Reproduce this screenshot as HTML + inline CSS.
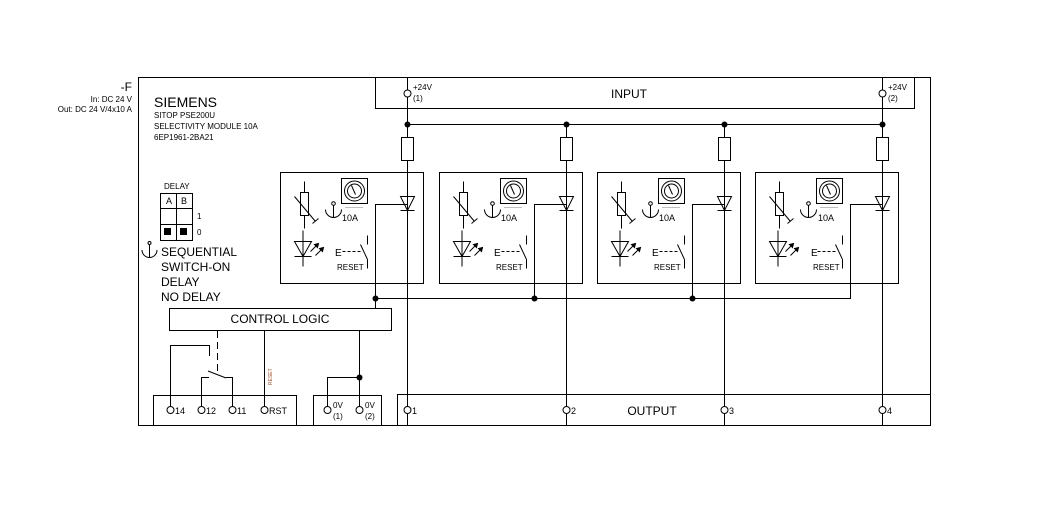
<!DOCTYPE html>
<html><head><meta charset="utf-8"><style>
html,body{margin:0;padding:0;background:#fff;}
svg{display:block;font-family:"Liberation Sans",sans-serif;}
</style></head><body>
<svg width="1047" height="521" viewBox="0 0 1047 521" xmlns="http://www.w3.org/2000/svg">
<defs>
<g id="ch" stroke="#000" stroke-width="1" fill="none">
<rect x="0" y="0" width="143" height="111"/>
<line x1="24" y1="9" x2="24" y2="56"/>
<rect x="20" y="20" width="8" height="23" fill="#fff"/>
<line x1="14" y1="24" x2="35" y2="49"/>
<line x1="32" y1="51" x2="38" y2="46"/>
<circle cx="53" cy="31" r="1.8"/>
<line x1="53" y1="33" x2="53" y2="45"/>
<path d="M45,37 A8,8 0 0 0 61,37"/>
<rect x="61" y="6" width="26" height="25"/>
<circle cx="74" cy="18.5" r="10"/>
<circle cx="74" cy="18.5" r="7"/>
<line x1="71" y1="13" x2="75" y2="22"/>
<line x1="65" y1="35" x2="83" y2="35" stroke-width="0.6" stroke-dasharray="1 1"/>
<line x1="22.5" y1="58" x2="22.5" y2="94"/>
<path d="M14,69 L31,69 L22.5,84 Z"/>
<line x1="14" y1="84" x2="31" y2="84"/>
<line x1="30" y1="79" x2="38" y2="71"/>
<path d="M38,71 l-4,1 l3,3 Z" fill="#000"/>
<line x1="35" y1="83" x2="43" y2="75"/>
<path d="M43,75 l-4,1 l3,3 Z" fill="#000"/>
<line x1="62" y1="79" x2="81" y2="79" stroke-dasharray="3 2"/>
<line x1="87" y1="63" x2="87" y2="72"/>
<line x1="80" y1="72" x2="87" y2="87"/>
<line x1="87" y1="87" x2="87" y2="96"/>
<path d="M120,24 L134,24 L127,38 Z"/>
<line x1="120" y1="38" x2="134" y2="38"/>
<path d="M127,32 H95 V126"/>
</g>
</defs>

<g font-size="10" fill="#000">
<text x="132" y="91" text-anchor="end" font-size="12">-F</text>
<text x="132" y="102" text-anchor="end" font-size="8">In: DC 24 V</text>
<text x="132" y="112" text-anchor="end" font-size="8">Out: DC 24 V/4x10 A</text>
<text x="154" y="107" font-size="14">SIEMENS</text>
<text x="154" y="118" font-size="8">SITOP PSE200U</text>
<text x="154" y="129" font-size="8">SELECTIVITY MODULE 10A</text>
<text x="154" y="140" font-size="8">6EP1961-2BA21</text>
<text x="164" y="189" font-size="8">DELAY</text>
<text x="166" y="204" font-size="9">A</text>
<text x="181" y="204" font-size="9">B</text>
<text x="197" y="219" font-size="8">1</text>
<text x="197" y="235" font-size="8">0</text>
<text x="161" y="256" font-size="12">SEQUENTIAL</text>
<text x="161" y="271" font-size="12">SWITCH-ON</text>
<text x="161" y="286" font-size="12">DELAY</text>
<text x="161" y="301" font-size="12">NO DELAY</text>
<text x="629" y="98" text-anchor="middle" font-size="12">INPUT</text>
<text x="413" y="90" font-size="8">+24V</text>
<text x="413" y="101" font-size="8">(1)</text>
<text x="888" y="90" font-size="8">+24V</text>
<text x="888" y="101" font-size="8">(2)</text>
<text x="280" y="323" text-anchor="middle" font-size="12">CONTROL LOGIC</text>
<text x="652" y="415" text-anchor="middle" font-size="12">OUTPUT</text>
<text x="175" y="414" font-size="9">14</text>
<text x="206" y="414" font-size="9">12</text>
<text x="237" y="414" font-size="9">11</text>
<text x="269" y="414" font-size="9">RST</text>
<text x="333" y="408" font-size="8">0V</text>
<text x="333" y="419" font-size="8">(1)</text>
<text x="365" y="408" font-size="8">0V</text>
<text x="365" y="419" font-size="8">(2)</text>
<text x="412" y="414" font-size="9">1</text>
<text x="571" y="414" font-size="9">2</text>
<text x="729" y="414" font-size="9">3</text>
<text x="887" y="414" font-size="9">4</text>
<text transform="translate(272,385) rotate(-90)" font-size="5" fill="#a0522d">RESET</text>
</g>
<g font-size="9" fill="#000">
<text x="342" y="221">10A</text><text x="337" y="270" font-size="8">RESET</text><text x="335" y="256" font-size="10">E</text>
<text x="501" y="221">10A</text><text x="496" y="270" font-size="8">RESET</text><text x="494" y="256" font-size="10">E</text>
<text x="659" y="221">10A</text><text x="654" y="270" font-size="8">RESET</text><text x="652" y="256" font-size="10">E</text>
<text x="818" y="221">10A</text><text x="813" y="270" font-size="8">RESET</text><text x="811" y="256" font-size="10">E</text>
</g>

<g stroke="#000" stroke-width="1" fill="none">
<rect x="138.5" y="77.5" width="792" height="348"/>
<rect x="375.5" y="77.5" width="539" height="31"/>
<line x1="407.5" y1="77" x2="407.5" y2="425"/>
<line x1="566.5" y1="124" x2="566.5" y2="425"/>
<line x1="724.5" y1="124" x2="724.5" y2="425"/>
<line x1="882.5" y1="77" x2="882.5" y2="425"/>
<line x1="407" y1="124.5" x2="883" y2="124.5"/>
<rect x="401.5" y="137.5" width="12" height="23" fill="#fff"/>
<rect x="560.5" y="137.5" width="12" height="23" fill="#fff"/>
<rect x="718.5" y="137.5" width="12" height="23" fill="#fff"/>
<rect x="876.5" y="137.5" width="12" height="23" fill="#fff"/>
<circle cx="407.5" cy="93.5" r="3.5" fill="#fff"/>
<circle cx="882.5" cy="93.5" r="3.5" fill="#fff"/>
<rect x="160.5" y="193.5" width="32" height="47"/>
<line x1="176.5" y1="193" x2="176.5" y2="240"/>
<line x1="160" y1="208.5" x2="192" y2="208.5"/>
<line x1="160" y1="224.5" x2="192" y2="224.5"/>
<circle cx="149.5" cy="243" r="1.5"/>
<line x1="149.5" y1="245" x2="149.5" y2="257"/>
<path d="M142,250 A7.5,7.5 0 0 0 157,250"/>
<line x1="375" y1="298.5" x2="851" y2="298.5"/>
<line x1="375.5" y1="298" x2="375.5" y2="308"/>
<rect x="169.5" y="308.5" width="222" height="22"/>
<!-- relay -->
<path d="M170.5,410 V345.5 H209.5 V356"/>
<line x1="217.5" y1="331" x2="217.5" y2="371" stroke-dasharray="7 4"/>
<path d="M201.5,410 V377.5 H209"/>
<line x1="208" y1="371" x2="226" y2="378"/>
<path d="M232.5,410 V377.5 H226"/>
<line x1="264.5" y1="331" x2="264.5" y2="410"/>
<path d="M327.5,410 V377.5 H359.5"/>
<line x1="359.5" y1="331" x2="359.5" y2="410"/>
<path d="M153.5,425 V395.5 H296.5 V425"/>
<path d="M313.5,425 V395.5 H381.5 V425"/>
<path d="M397.5,425 V394.5 H930"/>
</g>
<g fill="#fff" stroke="#000">
<circle cx="170.5" cy="410" r="3.5"/><circle cx="201.5" cy="410" r="3.5"/>
<circle cx="232.5" cy="410" r="3.5"/><circle cx="264.5" cy="410" r="3.5"/>
<circle cx="327.5" cy="410" r="3.5"/><circle cx="359.5" cy="410" r="3.5"/>
<circle cx="407.5" cy="410" r="3.5"/><circle cx="566.5" cy="410" r="3.5"/>
<circle cx="724.5" cy="410" r="3.5"/><circle cx="882.5" cy="410" r="3.5"/>
</g>
<g fill="#000">
<circle cx="407.5" cy="124.5" r="3"/><circle cx="566.5" cy="124.5" r="3"/>
<circle cx="724.5" cy="124.5" r="3"/><circle cx="882.5" cy="124.5" r="3"/>
<circle cx="375.5" cy="298.5" r="3"/><circle cx="534.5" cy="298.5" r="3"/>
<circle cx="692.5" cy="298.5" r="3"/><circle cx="359.5" cy="377.5" r="3"/>
<rect x="164" y="228" width="7" height="7"/><rect x="180" y="228" width="7" height="7"/>
</g>
<use href="#ch" transform="translate(280.5,172.5)"/>
<use href="#ch" transform="translate(439.5,172.5)"/>
<use href="#ch" transform="translate(597.5,172.5)"/>
<use href="#ch" transform="translate(755.5,172.5)"/>
</svg>
</body></html>
